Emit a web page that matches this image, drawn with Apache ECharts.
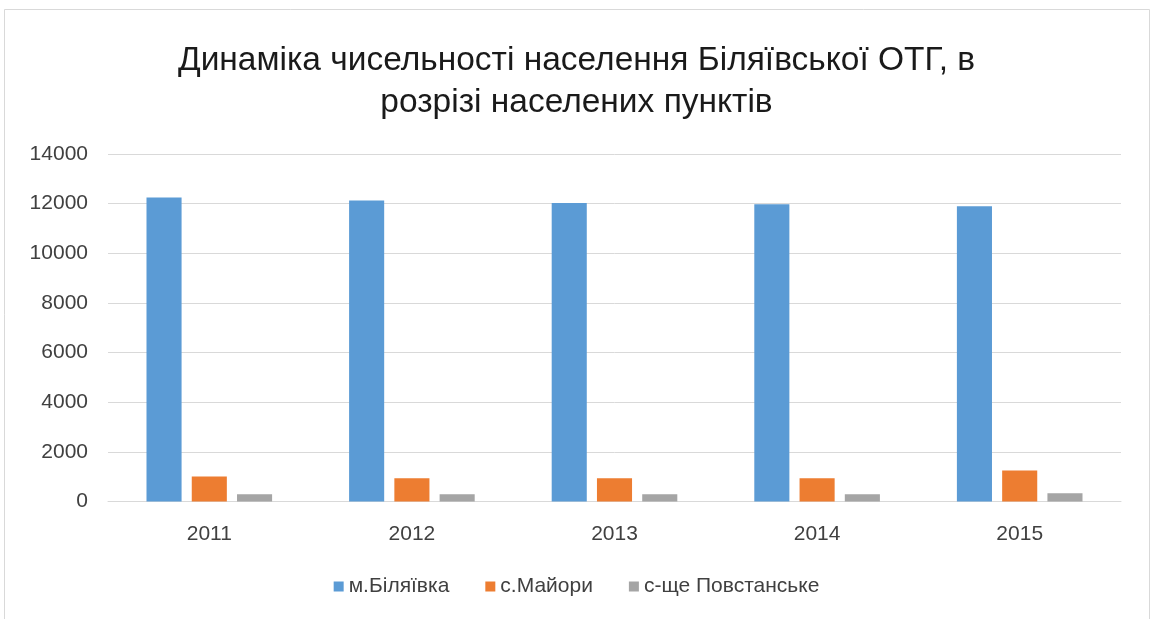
<!DOCTYPE html>
<html>
<head>
<meta charset="utf-8">
<script src="https://cdn.jsdelivr.net/npm/echarts@6/dist/echarts.min.js"></script>
<style>
html,body{margin:0;padding:0;background:#fff;}
#chart{width:1153px;height:619px;}
</style>
</head>
<body>
<div id="chart"></div>
<script>
const titleText = 'Динаміка чисельності населення Біляївської ОТГ, в\nрозрізі населених пунктів';
const years = ['2011', '2012', '2013', '2014', '2015'];
const seriesNames = ['м.Біляївка', 'с.Майори', 'с-ще Повстанське'];
const bilyaivka = [12250, 12130, 12030, 11980, 11890];
const maiory = [1010, 940, 940, 940, 1250];
const povstanske = [295, 295, 295, 295, 335];
const colors = ['#5b9bd5', '#ed7d31', '#a5a5a5'];

const font = 'Liberation Sans';
const chart = echarts.init(document.getElementById('chart'));
const dataSets = [bilyaivka, maiory, povstanske];
chart.setOption({
  backgroundColor: '#ffffff',
  animation: false,
  color: colors,
  title: {
    text: titleText,
    left: 'center',
    top: 35,
    textStyle: {fontFamily: font, fontSize: 33.5, fontWeight: 'normal', color: '#1a1a1a', lineHeight: 42}
  },
  graphic: [{
    type: 'rect',
    shape: {x: 4.5, y: 9.5, width: 1145, height: 640},
    style: {fill: 'none', stroke: '#d9d9d9', lineWidth: 1},
    silent: true
  }],
  legend: {
    data: seriesNames,
    bottom: 17,
    left: 'center',
    itemWidth: 10,
    itemHeight: 10,
    itemGap: 36,
    icon: 'rect',
    textStyle: {fontFamily: font, fontSize: 21, color: '#404040'}
  },
  grid: {left: 108, right: 32, top: 154, bottom: 117.5},
  xAxis: {
    type: 'category',
    data: years,
    axisLine: {lineStyle: {color: '#d9d9d9', width: 1}},
    axisTick: {show: false},
    axisLabel: {fontFamily: font, fontSize: 21, color: '#404040', margin: 22}
  },
  yAxis: {
    type: 'value',
    min: 0,
    max: 14000,
    interval: 2000,
    axisLine: {show: false},
    axisTick: {show: false},
    splitLine: {lineStyle: {color: '#d9d9d9', width: 1}},
    axisLabel: {fontFamily: font, fontSize: 21, color: '#404040', margin: 20, formatter: v => String(v)}
  },
  series: seriesNames.map((n, i) => ({
    name: n,
    type: 'bar',
    data: dataSets[i],
    barGap: '29%',
    barCategoryGap: '38%',
    itemStyle: {color: colors[i]}
  }))
});
</script>
</body>
</html>
